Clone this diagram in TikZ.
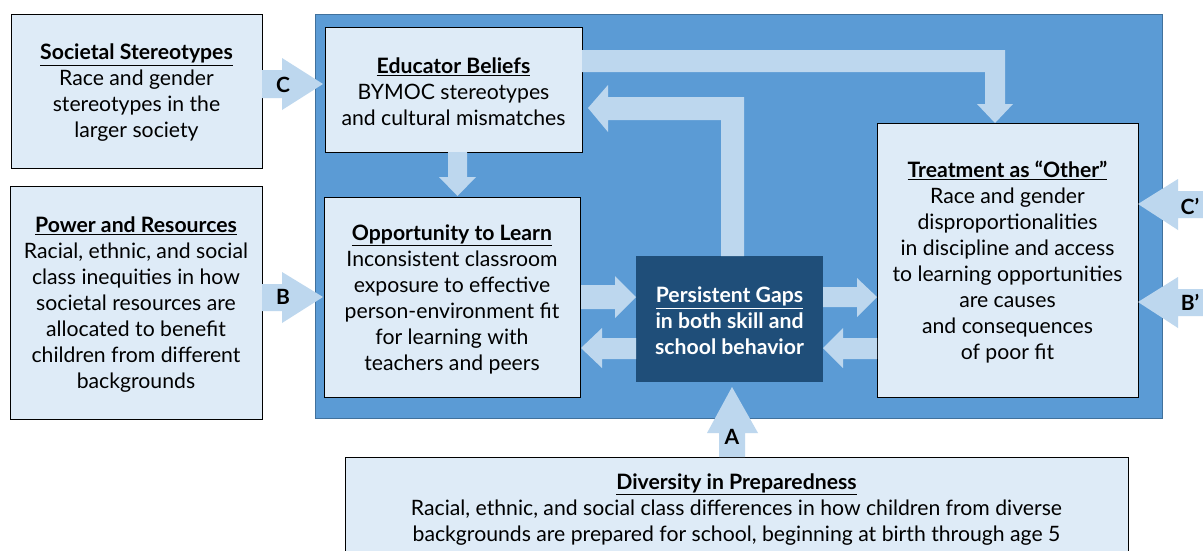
\documentclass[tikz,border=0pt]{standalone}
\usepackage{fontspec}
\setmainfont{Lato}
\definecolor{bgblue}{HTML}{5B9BD5}
\definecolor{bgedge}{HTML}{41719C}
\definecolor{boxfill}{HTML}{DEEBF7}
\definecolor{arrowfill}{HTML}{BDD7EE}
\definecolor{darkbox}{HTML}{1F4E79}
\begin{document}
\begin{tikzpicture}[x=1pt,y=-1pt,
  box/.style={draw=black, line width=1pt, fill=boxfill, inner sep=0pt},
  txt/.style={inner sep=0pt, align=center, yshift=-2pt,
    font=\fontsize{21.2}{26}\selectfont},
  darknode/.style={fill=darkbox, draw=none, inner sep=0pt},
  darktxt/.style={txt, text=white, font=\fontsize{21.2}{26}\selectfont\bfseries},
  blk/.style={fill=arrowfill, draw=none},
  lab/.style={font=\fontsize{21}{24}\selectfont\bfseries, inner sep=0pt, text=black}]
\useasboundingbox (0,0) rectangle (1203,550);
\clip (0,0) rectangle (1203,550);
\fill[white] (0,0) rectangle (1203,550);
% big blue background
\filldraw[fill=bgblue, draw=bgedge, line width=0.8pt] (315,14) rectangle (1162,418);

% boxes
\node[box, minimum width=251pt, minimum height=154pt] (soc) at (136.5,91) {};
\node[txt] (soct) at (soc.center)
  {\underline{\textbf{Societal Stereotypes}}\\Race and gender\\stereotypes in the\\larger society};
\node[box, minimum width=252pt, minimum height=233pt] (pow) at (136,302.5) {};
\node[txt] (powt) at (pow.center)
  {\underline{\textbf{Power and Resources}}\\Racial, ethnic, and social\\class inequities in how\\societal resources are\\allocated to benefit\\children from different\\backgrounds};
\node[box, minimum width=257pt, minimum height=125pt] (edu) at (453.5,89.5) {};
\node[txt] (edut) at (edu.center)
  {\underline{\textbf{Educator Beliefs}}\\BYMOC stereotypes\\and cultural mismatches};
\node[box, minimum width=256pt, minimum height=200pt] (opp) at (452,297) {};
\node[txt] (oppt) at (opp.center)
  {\underline{\textbf{Opportunity to Learn}}\\Inconsistent classroom\\exposure to effective\\person-environment fit\\for learning with\\teachers and peers};
\node[darknode, minimum width=187pt, minimum height=126pt] (gap) at (729.5,319) {};
\node[darktxt] (gapt) at (gap.center)
  {\underline{Persistent Gaps}\\in both skill and\\school behavior};
\node[box, minimum width=261pt, minimum height=274pt] (treat) at (1007.5,260) {};
\node[txt] (treatt) at (treat.center)
  {\underline{\textbf{Treatment as “Other”}}\\Race and gender\\disproportionalities\\in discipline and access\\to learning opportunities\\are causes\\and consequences\\of poor fit};
\node[box, minimum width=783pt, minimum height=101pt] (div) at (736.5,507.5) {};
\node[txt] (divt) at (div.center)
  {\underline{\textbf{Diversity in Preparedness}}\\Racial, ethnic, and social class differences in how children from diverse\\backgrounds are prepared for school, beginning at birth through age 5};

% block arrows
% C: societal -> educator
\fill[blk] (262,70) -- (282,70) -- (282,58) -- (323,84) -- (282,110) -- (282,98) -- (262,98) -- cycle;
\node[lab] (lc) at (283,85) {C};
% B: power -> opportunity
\fill[blk] (262,284) -- (282,284) -- (282,272) -- (323,297) -- (282,323) -- (282,311) -- (262,311) -- cycle;
\node[lab] (lb) at (283,297) {B};
% opportunity -> gaps
\fill[blk] (581,285) -- (615,285) -- (615,276) -- (636,297) -- (615,318) -- (615,309) -- (581,309) -- cycle;
% gaps -> opportunity
\fill[blk] (636,338) -- (602,338) -- (602,328) -- (581,348) -- (602,368) -- (602,359) -- (636,359) -- cycle;
% gaps -> treatment
\fill[blk] (823,287) -- (857,287) -- (857,278) -- (877,297) -- (857,317) -- (857,307) -- (823,307) -- cycle;
% treatment -> gaps
\fill[blk] (877,338) -- (843,338) -- (843,328) -- (823,348) -- (843,368) -- (843,359) -- (877,359) -- cycle;
% educator -> opportunity
\fill[blk] (448,152) -- (467,152) -- (467,177) -- (476,177) -- (457.5,196) -- (439,177) -- (448,177) -- cycle;
% educator -> treatment
\fill[blk] (582,50) -- (1005,50) -- (1005,104) -- (1013,104) -- (995,123) -- (977,104) -- (985,104) -- (985,72) -- (582,72) -- cycle;
% gaps -> educator
\fill[blk] (721,256) -- (721,120) -- (608,120) -- (608,132) -- (588,108) -- (608,85) -- (608,97) -- (744,97) -- (744,256) -- cycle;
% C' : from outside -> treatment
\fill[blk] (1203,191) -- (1178,191) -- (1178,179) -- (1138,204) -- (1178,230) -- (1178,218) -- (1203,218) -- cycle;
\node[lab] (lcp) at (1190,206) {C’};
% B' : from outside -> treatment
\fill[blk] (1203,289) -- (1178,289) -- (1178,277) -- (1138,302) -- (1178,328) -- (1178,316) -- (1203,316) -- cycle;
\node[lab] (lbp) at (1190,302) {B’};
% A: diversity -> gaps
\fill[blk] (719,457) -- (719,433) -- (707,433) -- (732,387) -- (758,433) -- (745,433) -- (745,457) -- cycle;
\node[lab] (la) at (732,437) {A};
\end{tikzpicture}
\end{document}
